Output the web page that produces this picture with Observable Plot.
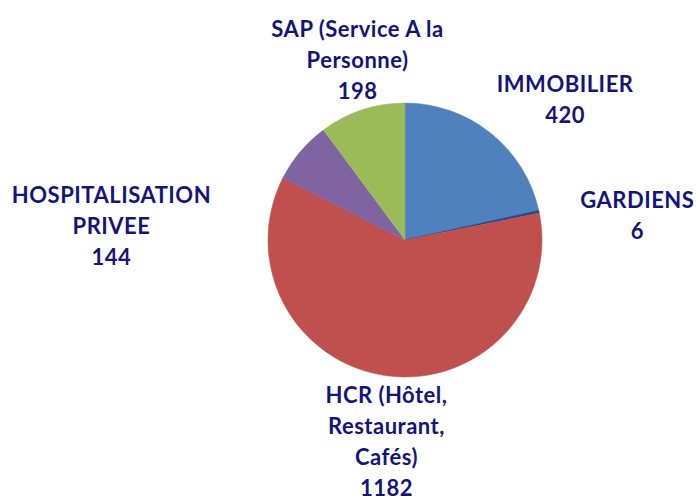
<!DOCTYPE html>
<html>
<head>
<meta charset="utf-8">
<script src="https://cdn.jsdelivr.net/npm/d3@7"></script>
<script src="https://cdn.jsdelivr.net/npm/@observablehq/plot@0.6"></script>
<style>
  html, body { margin: 0; padding: 0; background: #fff; }
  #chart { width: 696px; height: 504px; }
  #chart svg text { letter-spacing: 0.5px; }
</style>
</head>
<body>
<div id="chart"></div>
<script>
// Data
const categories = ["IMMOBILIER", "GARDIENS", "HCR (Hôtel,\nRestaurant,\nCafés)", "HOSPITALISATION\nPRIVEE", "SAP (Service A la\nPersonne)"];
const values = [420, 6, 1182, 144, 198];
const colors = ["#4F81BD", "#1F497D", "#C0504D", "#8064A2", "#9BBB59"];

// Layout (label anchor positions in pie-radius units, relative to centre)
const labelX = [1.165, 1.692, -0.139, -2.146, -0.350];
const labelY = [1.042, 0.195, -1.452, 0.118, 1.330];

const data = categories.map((c, i) => ({
  category: c, value: values[i], color: colors[i],
  lx: labelX[i], ly: labelY[i], label: c + "\n" + values[i]
}));

const pie = d3.pie().sort(null).value(d => d.value);
const arcsData = pie(data);

const pieMark = (index, scales, vals, dims) => {
  const cx = scales.x(0), cy = scales.y(0);
  const r = scales.x(1) - scales.x(0);
  const arc = d3.arc().innerRadius(0).outerRadius(r);
  const g = d3.create("svg:g").attr("transform", `translate(${cx},${cy})`);
  g.selectAll("path").data(arcsData).join("path")
    .attr("d", arc)
    .attr("fill", d => d.data.color)
    .attr("stroke", d => d.data.color)
    .attr("stroke-width", 0.5);
  return g.node();
};

const plot = Plot.plot({
  width: 696,
  height: 504,
  margin: 0,
  x: { domain: [-2.956, 2.124], axis: null },
  y: { domain: [-1.927, 1.752], axis: null },
  style: { fontFamily: "Lato, 'Open Sans', sans-serif", background: "#fff" },
  marks: [
    pieMark,
    Plot.text(data, {
      x: "lx", y: "ly", text: "label",
      fill: "#14147A", fontSize: 22, fontWeight: "bold",
      lineHeight: 1.41, textAnchor: "middle", lineAnchor: "middle"
    })
  ]
});
document.getElementById("chart").appendChild(plot);
</script>
</body>
</html>
